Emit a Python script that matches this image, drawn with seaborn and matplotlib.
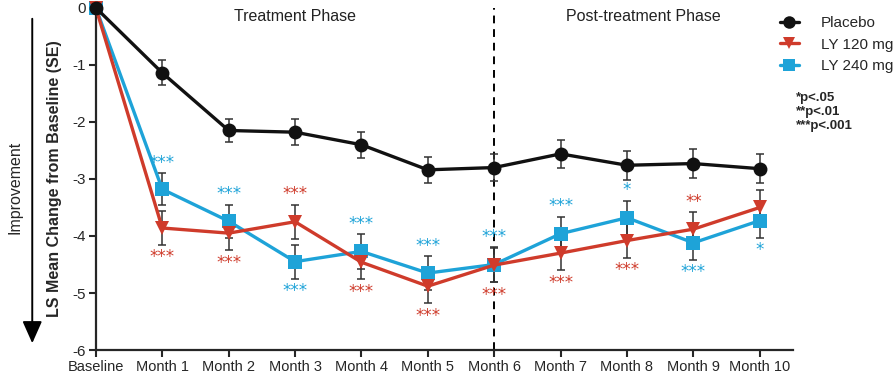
import numpy as np
import pandas as pd
import matplotlib
matplotlib.use("Agg")
import matplotlib.pyplot as plt
from matplotlib.lines import Line2D
import seaborn as sns

# ---- data ----
tick_labels = ["Baseline", "Month 1", "Month 2", "Month 3", "Month 4", "Month 5",
               "Month 6", "Month 7", "Month 8", "Month 9", "Month 10"]
months = list(range(11))

placebo = [0, -1.14, -2.15, -2.18, -2.40, -2.84, -2.80, -2.56, -2.76, -2.73, -2.82]
placebo_se = [0, 0.22, 0.21, 0.23, 0.23, 0.23, 0.23, 0.25, 0.25, 0.25, 0.25]

ly120 = [0, -3.86, -3.95, -3.75, -4.46, -4.88, -4.51, -4.30, -4.08, -3.88, -3.50]
ly120_se = [0, 0.29, 0.30, 0.30, 0.30, 0.30, 0.30, 0.30, 0.30, 0.30, 0.30]

ly240 = [0, -3.18, -3.74, -4.45, -4.27, -4.65, -4.50, -3.96, -3.68, -4.12, -3.73]
ly240_se = [0, 0.28, 0.29, 0.30, 0.30, 0.30, 0.30, 0.30, 0.30, 0.30, 0.30]

# significance labels and side (+1 above, -1 below)
ly120_sig = ["", "***", "***", "***", "***", "***", "***", "***", "***", "**", ""]
ly120_side = [0, -1, -1, 1, -1, -1, -1, -1, -1, 1, 0]
ly240_sig = ["", "***", "***", "***", "***", "***", "***", "***", "*", "***", "*"]
ly240_side = [0, 1, 1, -1, 1, 1, 1, 1, 1, -1, -1]

groups = ["Placebo", "LY 120 mg", "LY 240 mg"]
colors = {"Placebo": "#111111", "LY 120 mg": "#cf3b2b", "LY 240 mg": "#1ea3d8"}
markers = {"Placebo": "o", "LY 120 mg": "v", "LY 240 mg": "s"}

df = pd.DataFrame({
    "month": months * 3,
    "value": placebo + ly120 + ly240,
    "se": placebo_se + ly120_se + ly240_se,
    "group": [g for g in groups for _ in months],
})

sns.set_style("ticks")
plt.rcParams["font.family"] = ["Liberation Sans", "DejaVu Sans"]
plt.rcParams["axes.unicode_minus"] = False

fig = plt.figure(figsize=(8.96, 3.74), dpi=100)
ax = fig.add_axes([0.107, 0.064, 0.778, 0.915])

# error bars
for g in groups:
    sub = df[df.group == g]
    ax.errorbar(sub.month, sub.value, yerr=sub.se, fmt="none", ecolor="#333333",
                elinewidth=1.1, capsize=3, capthick=1.1, zorder=2, clip_on=False)

sns.lineplot(data=df, x="month", y="value", hue="group", style="group",
             palette=colors, markers=markers, dashes=False, linewidth=2.4,
             markersize=10, markeredgewidth=0, ax=ax, legend=False, zorder=3,
             hue_order=groups[::-1], style_order=groups[::-1])
for ln in ax.lines:
    ln.set_clip_on(False)

# significance annotations
pad = 0.02
for vals, ses, sigs, sides, g in [(ly120, ly120_se, ly120_sig, ly120_side, "LY 120 mg"),
                                   (ly240, ly240_se, ly240_sig, ly240_side, "LY 240 mg")]:
    for x, v, s, lab, side in zip(months, vals, ses, sigs, sides):
        if not lab:
            continue
        if side > 0:
            ax.text(x, v + s + pad, lab, color=colors[g], ha="center", va="bottom",
                    fontsize=12, family="DejaVu Sans")
        else:
            ax.text(x, v - s - pad - 0.04, lab, color=colors[g], ha="center", va="top",
                    fontsize=12, family="DejaVu Sans")

# phase divider
ax.axvline(6, color="black", linestyle=(0, (4, 3)), linewidth=1.4, zorder=1)
ax.text(3.0, -0.15, "Treatment Phase", ha="center", va="center", fontsize=11.5, color="#222222")
ax.text(8.25, -0.15, "Post-treatment Phase", ha="center", va="center", fontsize=11.5, color="#222222")

ax.set_xlim(0, 10.5)
ax.set_ylim(-6, 0)
ax.set_xticks(months)
ax.set_xticklabels(tick_labels, fontsize=10.5)
ax.set_yticks(range(-6, 1))
ax.set_yticklabels([str(v) for v in range(-6, 1)], fontsize=11)
ax.tick_params(axis="both", direction="out", length=5, width=1.5, pad=2)
ax.set_xlabel("")
ax.set_ylabel("LS Mean Change from Baseline (SE)", fontsize=11.5, fontweight="bold", labelpad=8)
for sp in ["top", "right"]:
    ax.spines[sp].set_visible(False)
for sp in ["left", "bottom"]:
    ax.spines[sp].set_linewidth(1.6)

# Improvement arrow
fig.text(0.017, 0.5, "Improvement", rotation=90, ha="center", va="center", fontsize=11.5)
fig.patches.append(matplotlib.patches.FancyArrowPatch(
    (0.036, 1 - 16 / 374), (0.036, 1 - 346 / 374), transform=fig.transFigure,
    arrowstyle="-|>,head_length=9,head_width=4", mutation_scale=1.5, color="black", linewidth=1.4))

# legend
handles = [Line2D([], [], color=colors[g], marker=markers[g], markersize=9, linewidth=2.4,
                  markeredgewidth=0) for g in groups]
fig.legend(handles, groups, loc="upper left", bbox_to_anchor=(0.870, 0.957), frameon=False,
           fontsize=11, handlelength=1.3, handletextpad=1.4, labelspacing=0.5,
           borderpad=0, borderaxespad=0)
fig.text(0.888, 0.755, "*p<.05\n**p<.01\n***p<.001", ha="left", va="top", fontsize=9.5,
         fontweight="bold", linespacing=1.25)

fig.savefig("out.png", dpi=100)
